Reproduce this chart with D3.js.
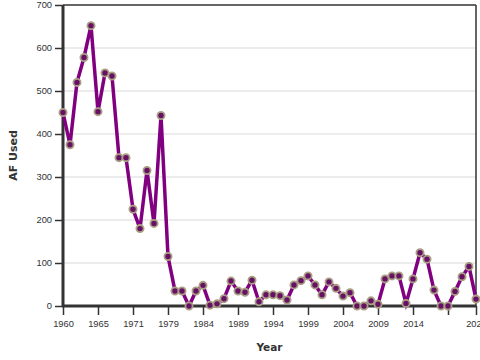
<!DOCTYPE html>
<html>
<head>
<meta charset="utf-8">
<script src="https://cdn.jsdelivr.net/npm/d3@7"></script>
<style>
  html, body { margin: 0; padding: 0; background: #fff; }
  svg { display: block; font-family: "DejaVu Sans", Verdana, sans-serif; }
</style>
</head>
<body>
<svg id="chart" width="480" height="360"></svg>
<script>
const years = [1960,1961,1962,1963,1964,1965,1966,1967,1968,1970,1971,1972,1973,1974,1976,
  1979,1980,1981,1982,1983,1984,1985,1986,1987,1988,1989,1990,1991,1992,1993,1994,1995,1996,1997,1998,
  1999,2000,2001,2002,2003,2004,2005,2006,2007,2008,2009,2010,2011,2012,2013,2014,2015,2016,2017,2018,
  2019,2020,2021,2022,2023];
const afUsed = [450,375,520,578,652,452,542,535,345,345,225,180,315,192,443,
  115,35,35,0,35,48,2,5,17,58,35,32,60,10,26,26,24,14,49,59,
  70,49,26,56,41,23,31,0,0,12,4,63,70,70,6,63,124,109,37,0,
  0,34,68,92,16];
const yTicks = [0,100,200,300,400,500,600,700];
const xTickYears = [1960,1965,1971,1979,1984,1989,1994,1999,2004,2009,2014,2019,2023];
const hiddenLabels = [2019];

const data = years.map((y, i) => ({year: y, value: afUsed[i]}));

const svg = d3.select("#chart");
const W = 480, H = 360;
const m = {left: 63, right: 4, top: 5, bottom: 54};
const x = d3.scalePoint().domain(years).range([m.left, W - m.right]);
const y = d3.scaleLinear().domain([0, 700]).range([H - m.bottom, m.top]);

// gridlines
svg.append("g")
  .selectAll("line").data(yTicks.filter(t => t > 0 && t < 700)).join("line")
  .attr("x1", m.left).attr("x2", W - m.right)
  .attr("y1", d => y(d)).attr("y2", d => y(d))
  .attr("stroke", "#d9d9d9").attr("stroke-width", 1);

// frame top and right
svg.append("line").attr("x1", m.left).attr("x2", W - m.right)
  .attr("y1", y(700)).attr("y2", y(700)).attr("stroke", "#333").attr("stroke-width", 1.5);
svg.append("line").attr("x1", W - m.right).attr("x2", W - m.right)
  .attr("y1", y(700)).attr("y2", y(0)).attr("stroke", "#333").attr("stroke-width", 1.5);

// y axis
const yAxis = svg.append("g").attr("transform", `translate(${m.left},0)`)
  .call(d3.axisLeft(y).tickValues(yTicks).tickSize(8).tickPadding(3).tickFormat(d3.format("d")));
yAxis.select(".domain").attr("stroke", "#333").attr("stroke-width", 3)
  .attr("d", `M0,${y(700)}V${y(0)}`);
yAxis.selectAll(".tick line").attr("stroke", "#333").attr("stroke-width", 1.5);
yAxis.selectAll(".tick text").attr("fill", "#333").style("font-size", "9.3px");

// x axis
const xAxis = svg.append("g").attr("transform", `translate(0,${y(0)})`)
  .call(d3.axisBottom(x).tickValues(xTickYears).tickSize(9).tickPadding(5)
    .tickFormat(d => hiddenLabels.includes(d) ? "" : String(d)));
xAxis.select(".domain").attr("stroke", "#333").attr("stroke-width", 3)
  .attr("d", `M${m.left - 1},0H${W - m.right}`);
xAxis.selectAll(".tick line").attr("stroke", "#333").attr("stroke-width", 1.5);
xAxis.selectAll(".tick text").attr("fill", "#333").style("font-size", "9.3px");

// line
svg.append("path").datum(data)
  .attr("fill", "none").attr("stroke", "#800080").attr("stroke-width", 3.5)
  .attr("stroke-linejoin", "miter")
  .attr("d", d3.line().x(d => x(d.year)).y(d => y(d.value)));

// markers
svg.append("g").selectAll("circle").data(data).join("circle")
  .attr("cx", d => x(d.year)).attr("cy", d => y(d.value)).attr("r", 3.6)
  .attr("fill", "#661166").attr("stroke", "#aa9f84").attr("stroke-width", 1.8);

// axis titles
svg.append("text").attr("x", (m.left + W - m.right) / 2 + 0).attr("y", 351)
  .attr("text-anchor", "middle").attr("font-weight", "bold").attr("fill", "#333")
  .style("font-size", "10.5px").text("Year");
svg.append("text").attr("transform", `translate(17,${(y(700) + y(0)) / 2}) rotate(-90)`)
  .attr("text-anchor", "middle").attr("font-weight", "bold").attr("fill", "#333")
  .style("font-size", "11px").text("AF Used");
</script>
</body>
</html>
